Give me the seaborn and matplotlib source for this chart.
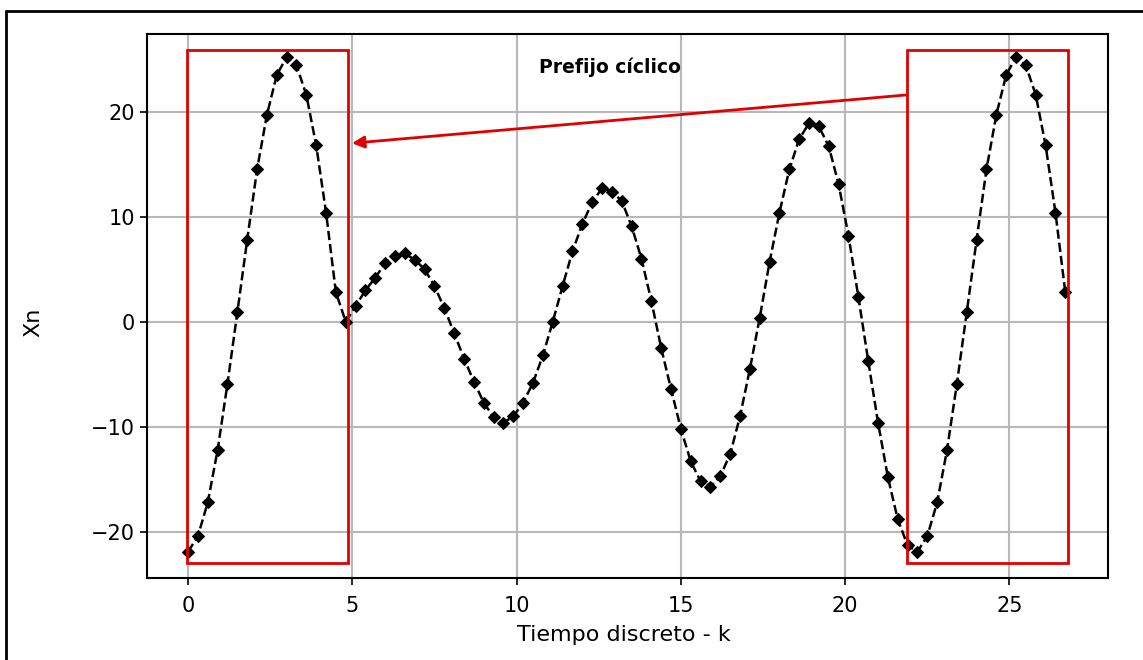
import numpy as np
import matplotlib
matplotlib.use("Agg")
import matplotlib.pyplot as plt
from matplotlib.patches import Rectangle
import seaborn as sns

# sampled signal values (cyclic prefix = last 16 samples copied to the front)
xn_body = [-21.9, -20.4, -17.2, -12.2, -5.9, 0.9, 7.8, 14.5, 19.7, 23.5,
           25.2, 24.4, 21.6, 16.8, 10.4, 2.8,
           0.0, 1.5, 3.0, 4.2, 5.6, 6.3, 6.5, 5.9, 5.0, 3.4,
           1.3, -1.1, -3.5, -5.7, -7.7, -9.1, -9.6, -9.0, -7.7, -5.8,
           -3.2, 0.0, 3.4, 6.7, 9.3, 11.4, 12.7, 12.4, 11.5, 9.1,
           6.0, 2.0, -2.5, -6.4, -10.2, -13.3, -15.2, -15.7, -14.7, -12.6,
           -9.0, -4.5, 0.4, 5.7, 10.4, 14.5, 17.4, 18.9, 18.6, 16.7,
           13.1, 8.2, 2.4, -3.7, -9.6, -14.8, -18.8, -21.3]
prefix_len = 16
xn = xn_body + xn_body[:prefix_len]
dt = 0.3
k = np.round(np.arange(len(xn)) * dt, 2)

# annotation boxes (k range, value range)
box_left = (-0.03, 4.87)
box_right = (21.88, 26.78)
box_y = (-23.0, 25.9)

sns.set_style("ticks")
plt.rcParams['font.family'] = ['DejaVu Sans']
plt.rcParams['text.color'] = 'black'
plt.rcParams['axes.labelcolor'] = 'black'
plt.rcParams['xtick.color'] = 'black'
plt.rcParams['ytick.color'] = 'black'

fig = plt.figure(figsize=(11.43, 6.6), dpi=100)
ax = fig.add_axes([0.1286, 0.1242, 0.8408, 0.8243])

sns.lineplot(x=k, y=xn, ax=ax, color='black', linestyle='--', linewidth=1.8,
             marker='D', markersize=6, markeredgecolor='black', zorder=3)

ax.set_xlim(-1.25, 28.0)
ax.set_ylim(-24.4, 27.4)
ax.set_xticks([0, 5, 10, 15, 20, 25])
ax.set_yticks([-20, -10, 0, 10, 20])
ax.grid(True, color='#b8b8b8', linewidth=1.5)
ax.set_axisbelow(True)
for s in ax.spines.values():
    s.set_linewidth(1.5)
    s.set_color('black')
ax.tick_params(labelsize=15, length=5, width=1.2)
ax.tick_params(axis='x', pad=8)
ax.set_xlabel("Tiempo discreto - k", fontsize=16)
ax.set_ylabel("Xn", fontsize=16)
ax.xaxis.set_label_coords(0.496, -0.087)
ax.yaxis.set_label_coords(-0.108, 0.47)

for bx in (box_left, box_right):
    ax.add_patch(Rectangle((bx[0], box_y[0]), bx[1] - bx[0], box_y[1] - box_y[0],
                           fill=False, edgecolor='#e00000', linewidth=2, zorder=4))

ax.annotate("", xy=(4.99, 17.0), xytext=(21.88, 21.6),
            arrowprops=dict(arrowstyle='-|>', color='#e00000', lw=2,
                            mutation_scale=18, shrinkA=0, shrinkB=0), zorder=5)
ax.text(12.84, 24.2, "Prefijo cíclico", fontsize=13.5, fontweight='bold',
        ha='center', va='center', zorder=5)

# outer frame of the pasted image
fig.add_artist(plt.Line2D([0.005, 0.005], [0, 0.984], color='black', linewidth=2))
fig.add_artist(plt.Line2D([0.005, 1], [0.984, 0.984], color='black', linewidth=2))

fig.savefig('out.png', dpi=100)
